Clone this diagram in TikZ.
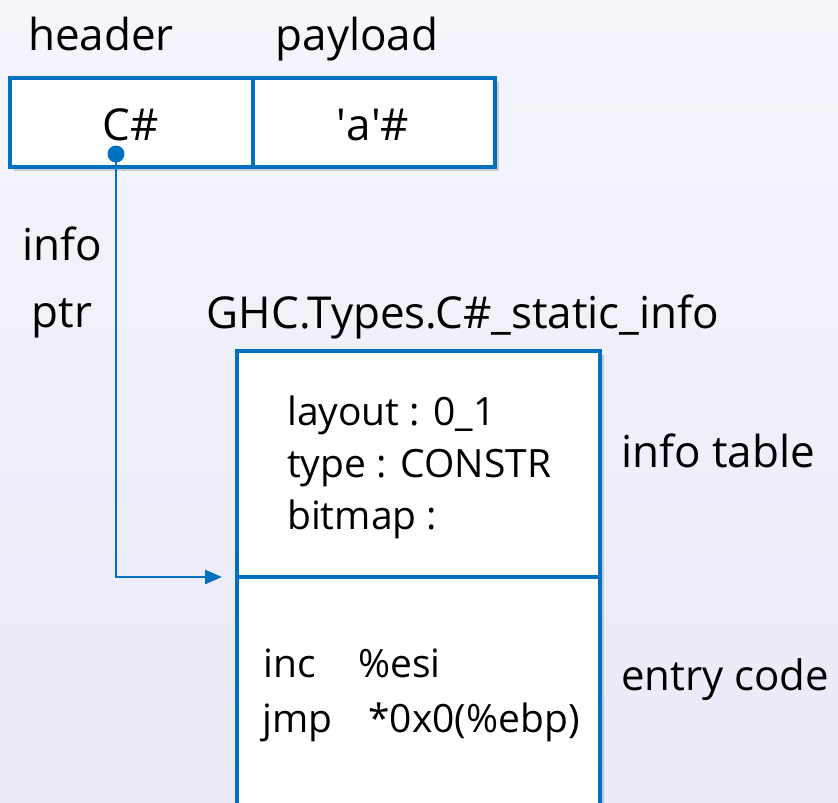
\documentclass[tikz,border=0pt]{standalone}
\usepackage{fontspec}
\setmainfont{Open Sans}
\newfontfamily\plainq{Open Sans}
\usetikzlibrary{arrows.meta,shadows}
\definecolor{lnblue}{HTML}{0070C0}
\definecolor{bgtop}{HTML}{F5F5FC}
\definecolor{bgbot}{HTML}{EAEAF8}
\tikzset{
  cellbox/.style={draw=lnblue, line width=3.4pt, fill=white, inner sep=0pt,
    drop shadow={opacity=0.35, shadow xshift=4pt, shadow yshift=-4pt}},
  lbl/.style={font=\fontsize{44}{50}\selectfont, inner sep=0pt, anchor=base},
  boxtxt/.style={font=\fontsize{39}{45}\selectfont, inner sep=0pt, anchor=base west},
  conn/.style={draw=lnblue, line width=2.6pt, -{Triangle[length=17pt,width=14pt]}}
}
\begin{document}
\begin{tikzpicture}[x=1pt,y=-1pt]
\useasboundingbox (0,0) rectangle (838,803);
\clip (0,0) rectangle (838,803);
\shade[top color=bgtop, bottom color=bgbot] (0,0) rectangle (838,803);
% top record
\node[cellbox, minimum width=485pt, minimum height=89pt] (rec) at (252.5,122.5) {};
\draw[draw=lnblue, line width=3.4pt] (rec.north west -| 253,0) -- (rec.south west -| 253,0);
\node[lbl] (hdr) at (101,50) {header};
\node[lbl] (pay) at (357,50) {payload};
\node[lbl] (cc) at (131,140) {C\#};
\node[lbl] (ca) at (373,140) {{\plainq'}a{\plainq'}\#};
% big box
\node[cellbox, minimum width=363pt, minimum height=480pt] (big) at (418.5,591) {};
\draw[draw=lnblue, line width=3.4pt] (big.west |- 0,577) coordinate (divl) -- (big.east |- 0,577) coordinate (divr);
\node[lbl] (ghc) at (463,328) {GHC.Types.C\#\_static\_info};
\node[boxtxt] (l1) at (287,425) {layout : 0\_1};
\node[boxtxt] (l2) at (287,477) {type : CONSTR};
\node[boxtxt] (l3) at (287,529) {bitmap :};
\node[lbl, anchor=base west] (itab) at (621,467) {info table};
\node[boxtxt] (c1) at (263,677) {inc};
\node[boxtxt] (c1b) at (358,677) {\%esi};
\node[boxtxt] (c2) at (262,732) {jmp};
\node[boxtxt] (c2b) at (368,732) {*0x0(\%ebp)};
\node[lbl, anchor=base west, font=\fontsize{42}{48}\selectfont] (ecode) at (621,690) {entry code};
\node[lbl] (inf) at (62,260) {info};
\node[lbl] (ptr) at (62,327) {ptr};
% pointer
\node[circle, fill=lnblue, inner sep=0pt, minimum size=17pt] (dot) at (116,154) {};
\coordinate (tip) at (222,577);
\draw[conn] (dot.center) |- (tip);
\end{tikzpicture}
\end{document}
